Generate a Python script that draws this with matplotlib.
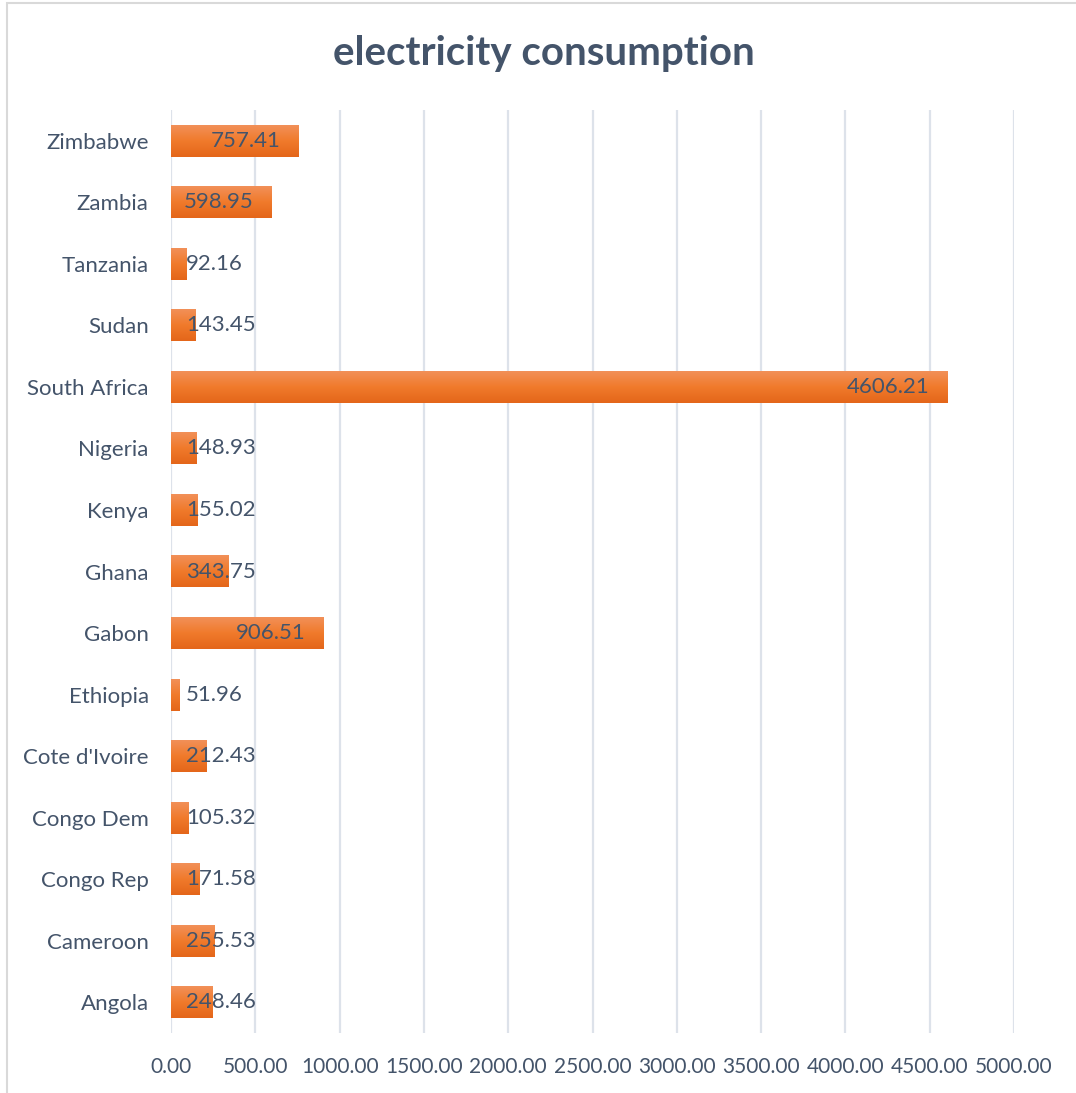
import numpy as np
import matplotlib.pyplot as plt
from matplotlib.patches import Rectangle
from matplotlib.colors import LinearSegmentedColormap
import matplotlib.transforms as mtransforms

countries = ['Angola', 'Cameroon', 'Congo Rep', 'Congo Dem', "Cote d'Ivoire",
             'Ethiopia', 'Gabon', 'Ghana', 'Kenya', 'Nigeria',
             'South Africa', 'Sudan', 'Tanzania', 'Zambia', 'Zimbabwe']
consumption = [248.46, 255.53, 171.58, 105.32, 212.43,
               51.96, 906.51, 343.75, 155.02, 148.93,
               4606.21, 143.45, 92.16, 598.95, 757.41]
xticks = [0, 500, 1000, 1500, 2000, 2500, 3000, 3500, 4000, 4500, 5000]

txt = '#44546A'
plt.rcParams['font.family'] = ['Lato', 'DejaVu Sans']

fig = plt.figure(figsize=(10.76, 10.93), dpi=100)
fig.patches.append(Rectangle((7 / 1076, -0.1), 1.2, 1.1 - 3 / 1093, transform=fig.transFigure,
                             fill=False, edgecolor='#D9D9D9', lw=1.5, zorder=0))
ax = fig.add_axes([171 / 1076, 1 - 1033 / 1093, 843 / 1076, 923 / 1093])

y = np.arange(len(countries))
h = 0.52
cmap = LinearSegmentedColormap.from_list('bar', ['#E4661A', '#F07A2B', '#F29058'])
grad = cmap(np.linspace(0, 1, 64))[:, None, :]
for yi, v in zip(y, consumption):
    ax.imshow(grad, extent=[0, v, yi - h / 2, yi + h / 2], origin='lower',
              aspect='auto', zorder=2, interpolation='bilinear')
    if v >= 500:
        off = mtransforms.offset_copy(ax.transData, fig=fig, x=-18, y=0, units='dots')
        ax.text(v, yi, f'{v:.2f}', transform=off, ha='right', va='center',
                fontsize=16, color=txt, zorder=3)
    else:
        off = mtransforms.offset_copy(ax.transData, fig=fig, x=15, y=0, units='dots')
        ax.text(0, yi, f'{v:.2f}', transform=off, ha='left', va='center',
                fontsize=16, color=txt, zorder=3)

ax.set_xlim(0, 5000)
ax.set_ylim(-0.5, len(countries) - 0.5)
ax.set_xticks(xticks)
ax.set_xticklabels([f'{t:.2f}' for t in xticks])
ax.set_yticks(y)
ax.set_yticklabels(countries)
ax.tick_params(axis='both', length=0, labelcolor=txt)
ax.tick_params(axis='x', pad=17, labelsize=15)
ax.tick_params(axis='y', pad=16, labelsize=16)
ax.grid(axis='x', color='#DDE2EA', lw=1.6, zorder=1)
ax.set_axisbelow(True)
for s in ax.spines.values():
    s.set_visible(False)

fig.text(544 / 1076, 1 - 53 / 1093, 'electricity consumption', ha='center', va='center',
         fontsize=29, fontweight='bold', color=txt)

fig.savefig('out.png', dpi=100)
